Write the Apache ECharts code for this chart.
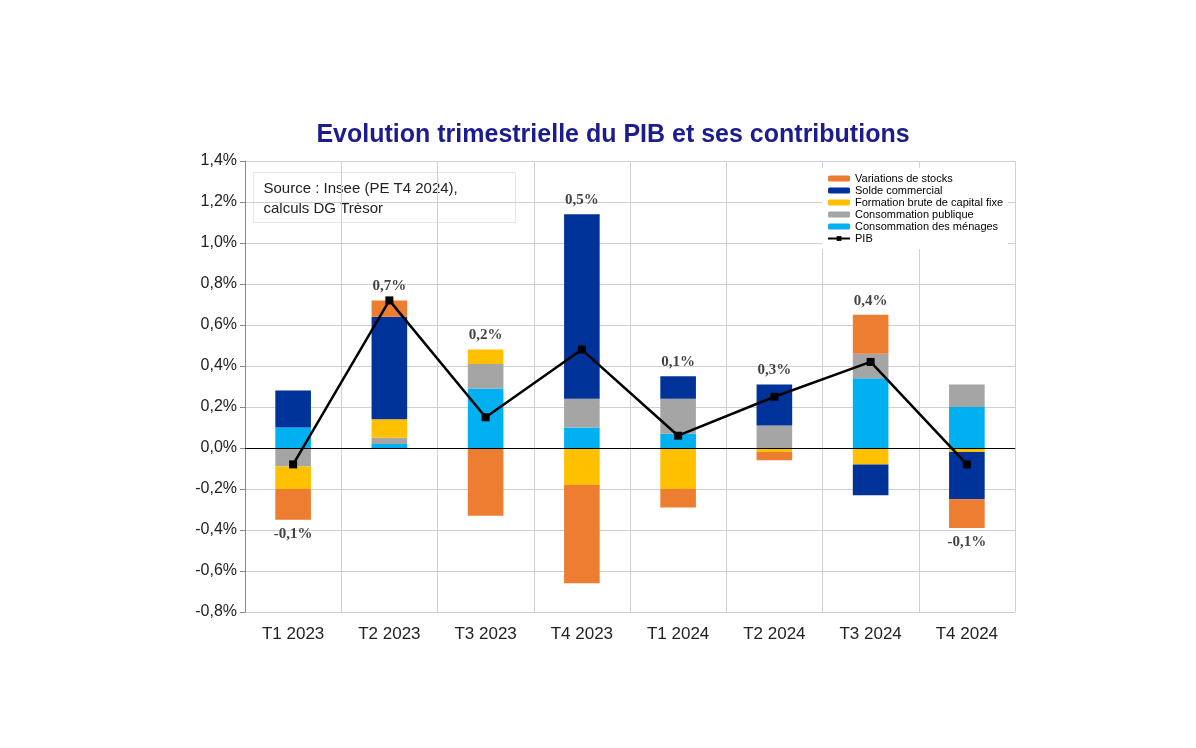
<!DOCTYPE html>
<html><head><meta charset="utf-8">
<script src="https://cdn.jsdelivr.net/npm/echarts@6/dist/echarts.min.js"></script>
<style>html,body{margin:0;background:#fff}#c{width:1196px;height:748px}</style>
</head><body><div id="c"></div>
<script>
const categories = ['T1 2023','T2 2023','T3 2023','T4 2023','T1 2024','T2 2024','T3 2024','T4 2024'];
const menages   = [0.10, 0.02, 0.29, 0.10, 0.07, 0.00, 0.34, 0.20];
const publique  = [-0.09, 0.03, 0.12, 0.14, 0.17, 0.11, 0.12, 0.11];
const fbcf      = [-0.11, 0.09, 0.07, -0.18, -0.20, -0.02, -0.08, -0.02];
const solde     = [0.18, 0.50, 0.00, 0.90, 0.11, 0.20, -0.15, -0.23];
const stocks    = [-0.15, 0.08, -0.33, -0.48, -0.09, -0.04, 0.19, -0.14];
const pib       = [-0.08, 0.72, 0.15, 0.48, 0.06, 0.25, 0.42, -0.08];
const pibLabels = ['-0,1%','0,7%','0,2%','0,5%','0,1%','0,3%','0,4%','-0,1%'];

const all = [menages, publique, fbcf, solde, stocks];
const labelData = categories.map((c,i)=>{
  let pos=0,neg=0; all.forEach(s=>{ if(s[i]>=0) pos+=s[i]; else neg+=s[i]; });
  const up = pib[i] >= 0;
  return {value:[i, up ? pos : neg], label:{position: up ? 'top' : 'bottom', distance:6}};
});

const chart = echarts.init(document.getElementById('c'));
function bar(name, data, color){
  return {name, type:'bar', stack:'t', data, barWidth:'37%', itemStyle:{color}, z:2};
}
chart.setOption({
  animation:false,
  title:{text:'Evolution trimestrielle du PIB et ses contributions', left:608, top:118, textAlign:'center',
    textStyle:{color:'#1c1c8c', fontFamily:'Liberation Sans, Arial', fontWeight:'bold', fontSize:25}},
  grid:{left:245, right:181, top:161, bottom:136},
  legend:{right:188, top:168, orient:'vertical', itemGap:1, itemWidth:22, itemHeight:6,
    backgroundColor:'#fff',
    textStyle:{fontSize:11, fontFamily:'Liberation Sans, Arial', color:'#000'},
    data:['Variations de stocks','Solde commercial','Formation brute de capital fixe','Consommation publique','Consommation des ménages','PIB']},
  xAxis:{type:'category', data:categories, axisTick:{show:false},
    axisLine:{lineStyle:{color:'#888'}},
    splitLine:{show:true, lineStyle:{color:'#d0d0d0'}},
    axisLabel:{fontSize:17, color:'#222', fontFamily:'Liberation Sans, Arial', margin:14, interval:0}},
  yAxis:{type:'value', min:-0.8, max:1.4, interval:0.2,
    axisLine:{show:true, lineStyle:{color:'#888'}}, axisTick:{show:true, lineStyle:{color:'#888'}},
    splitLine:{lineStyle:{color:'#d0d0d0'}},
    axisLabel:{fontSize:16, color:'#222', fontFamily:'Liberation Sans, Arial',
      formatter:v=>v.toFixed(1).replace('.',',')+'%'}},
  series:[
    bar('Consommation des ménages', menages, '#00b0f0'),
    bar('Consommation publique', publique, '#a5a5a5'),
    bar('Formation brute de capital fixe', fbcf, '#ffc000'),
    bar('Solde commercial', solde, '#003399'),
    bar('Variations de stocks', stocks, '#ed7d31'),
    {name:'PIB', type:'line', data:pib, z:5, symbol:'rect', symbolSize:8,
      lineStyle:{color:'#000', width:2.5}, itemStyle:{color:'#000'},
      markLine:{silent:true, symbol:'none', label:{show:false}, lineStyle:{color:'#000', width:1, type:'solid'}, data:[{yAxis:0}]}},
    {type:'scatter', data:labelData, symbolSize:1, itemStyle:{color:'transparent'}, silent:true, z:6,
      label:{show:true, formatter:p=>pibLabels[p.dataIndex],
        fontFamily:'Liberation Serif, Times New Roman', fontWeight:'bold', fontSize:15, color:'#111'}}
  ],
  graphic:[{type:'group', left:253, top:172, children:[
    {type:'rect', shape:{x:0,y:0,width:262,height:50}, style:{fill:'#fff', stroke:'#e6e6e6'}},
    {type:'text', x:10, y:6, style:{text:'Source : Insee (PE T4 2024),\ncalculs DG Trésor', fontSize:15, lineHeight:20, fontFamily:'Liberation Sans, Arial', fill:'#222'}}
  ]}]
});
</script></body></html>
